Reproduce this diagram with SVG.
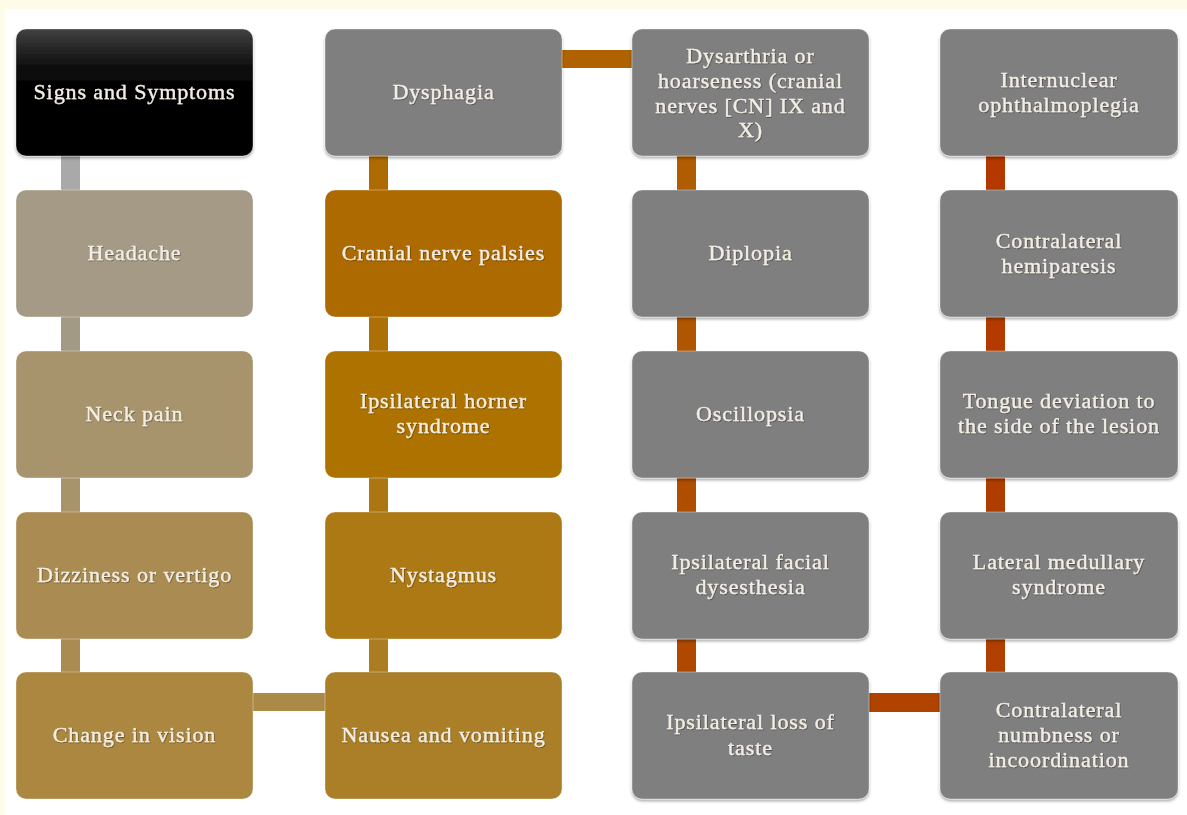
<svg xmlns="http://www.w3.org/2000/svg" width="1187" height="815" viewBox="0 0 1187 815">
<defs>
<linearGradient id="gBlack" x1="0" y1="0" x2="0" y2="1">
<stop offset="0" stop-color="#424242"/>
<stop offset="0.12" stop-color="#2c2c2c"/>
<stop offset="0.3" stop-color="#0e0e0e"/>
<stop offset="0.5" stop-color="#000"/>
<stop offset="1" stop-color="#000"/>
</linearGradient>
<filter id="sh" x="-5%" y="-5%" width="110%" height="115%">
<feDropShadow dx="0" dy="2" stdDeviation="1.5" flood-color="#000" flood-opacity="0.35"/>
</filter>
<filter id="tsh" x="-5%" y="-20%" width="110%" height="140%">
<feDropShadow dx="0.6" dy="0.8" stdDeviation="0.4" flood-color="#000" flood-opacity="0.45"/>
</filter>
<style>
.box{stroke:#ffffff;stroke-opacity:0.35;stroke-width:1}
.t{font-family:"Liberation Serif","Times New Roman",serif;font-size:22px;fill:#f3eee4;stroke:#f3eee4;stroke-width:0.35;text-anchor:middle;letter-spacing:0.9px}
.gray{fill:#7f7f7f}
</style>
</defs>
<rect x="0" y="0" width="1187" height="815" fill="#fffbe9"/>
<rect x="5" y="9" width="1182" height="806" fill="#ffffff"/>

<g id="connectors">
<rect x="61" y="156" width="19" height="34" fill="#a9a9a9"/>
<rect x="61" y="317" width="19" height="34" fill="#a39a86"/>
<rect x="61" y="478" width="19" height="34" fill="#a8946b"/>
<rect x="61" y="639" width="19" height="33" fill="#aa8c52"/>
<rect x="253" y="693" width="72" height="18" fill="#ab8a48"/>
<rect x="369" y="639" width="19" height="33" fill="#ac7c20"/>
<rect x="369" y="478" width="19" height="34" fill="#ac7612"/>
<rect x="369" y="317" width="19" height="34" fill="#ac7006"/>
<rect x="369" y="156" width="19" height="34" fill="#ad6a00"/>
<rect x="561" y="50" width="71" height="18" fill="#b06200"/>
<rect x="677" y="156" width="19" height="34" fill="#b05c00"/>
<rect x="677" y="317" width="19" height="34" fill="#b05500"/>
<rect x="677" y="478" width="19" height="34" fill="#b04e00"/>
<rect x="677" y="639" width="19" height="33" fill="#b04800"/>
<rect x="869" y="693" width="71" height="19" fill="#b04300"/>
<rect x="986" y="639" width="19" height="33" fill="#b03f00"/>
<rect x="986" y="478" width="19" height="34" fill="#b03d00"/>
<rect x="986" y="317" width="19" height="34" fill="#b43a00"/>
<rect x="986" y="156" width="19" height="34" fill="#b43800"/>
</g>

<g id="n-signs" filter="url(#sh)">
<rect class="box" x="16" y="29" width="237" height="127" rx="10" fill="url(#gBlack)"/>
<text class="t" x="134.5" y="99" filter="url(#tsh)">Signs and Symptoms</text>
</g>
<g id="n-headache">
<rect class="box" x="16" y="190" width="237" height="127" rx="10" fill="#a59a86"/>
<text class="t" x="134.5" y="260" filter="url(#tsh)">Headache</text>
</g>
<g id="n-neck">
<rect class="box" x="16" y="351" width="237" height="127" rx="10" fill="#a8946c"/>
<text class="t" x="134.5" y="421" filter="url(#tsh)">Neck pain</text>
</g>
<g id="n-dizzy">
<rect class="box" x="16" y="512" width="237" height="127" rx="10" fill="#aa8c52"/>
<text class="t" x="134.5" y="582" filter="url(#tsh)">Dizziness or vertigo</text>
</g>
<g id="n-vision">
<rect class="box" x="16" y="672" width="237" height="127" rx="10" fill="#ab8740"/>
<text class="t" x="134.5" y="742" filter="url(#tsh)">Change in vision</text>
</g>

<g id="n-dysphagia" filter="url(#sh)">
<rect class="box gray" x="325" y="29" width="237" height="127" rx="10"/>
<text class="t" x="443.5" y="99" filter="url(#tsh)">Dysphagia</text>
</g>
<g id="n-cranial">
<rect class="box" x="325" y="190" width="237" height="127" rx="10" fill="#ad6a00"/>
<text class="t" x="443.5" y="260" filter="url(#tsh)">Cranial nerve palsies</text>
</g>
<g id="n-horner">
<rect class="box" x="325" y="351" width="237" height="127" rx="10" fill="#ad7200"/>
<text class="t" x="443.5" y="408" filter="url(#tsh)">Ipsilateral horner</text>
<text class="t" x="443.5" y="433" filter="url(#tsh)">syndrome</text>
</g>
<g id="n-nystagmus">
<rect class="box" x="325" y="512" width="237" height="127" rx="10" fill="#ac7914"/>
<text class="t" x="443.5" y="582" filter="url(#tsh)">Nystagmus</text>
</g>
<g id="n-nausea">
<rect class="box" x="325" y="672" width="237" height="127" rx="10" fill="#ab7f28"/>
<text class="t" x="443.5" y="742" filter="url(#tsh)">Nausea and vomiting</text>
</g>

<g id="n-dysarthria" filter="url(#sh)">
<rect class="box gray" x="632" y="29" width="237" height="127" rx="10"/>
<text class="t" x="750.5" y="63" filter="url(#tsh)">Dysarthria or</text>
<text class="t" x="750.5" y="88" filter="url(#tsh)">hoarseness (cranial</text>
<text class="t" x="750.5" y="113" filter="url(#tsh)">nerves [CN] IX and</text>
<text class="t" x="750.5" y="137" filter="url(#tsh)">X)</text>
</g>
<g id="n-diplopia" filter="url(#sh)">
<rect class="box gray" x="632" y="190" width="237" height="127" rx="10"/>
<text class="t" x="750.5" y="260" filter="url(#tsh)">Diplopia</text>
</g>
<g id="n-oscillopsia" filter="url(#sh)">
<rect class="box gray" x="632" y="351" width="237" height="127" rx="10"/>
<text class="t" x="750.5" y="421" filter="url(#tsh)">Oscillopsia</text>
</g>
<g id="n-facial" filter="url(#sh)">
<rect class="box gray" x="632" y="512" width="237" height="127" rx="10"/>
<text class="t" x="750.5" y="569" filter="url(#tsh)">Ipsilateral facial</text>
<text class="t" x="750.5" y="594" filter="url(#tsh)">dysesthesia</text>
</g>
<g id="n-taste" filter="url(#sh)">
<rect class="box gray" x="632" y="672" width="237" height="127" rx="10"/>
<text class="t" x="750.5" y="729" filter="url(#tsh)">Ipsilateral loss of</text>
<text class="t" x="750.5" y="755" filter="url(#tsh)">taste</text>
</g>

<g id="n-ino" filter="url(#sh)">
<rect class="box gray" x="940" y="29" width="238" height="127" rx="10"/>
<text class="t" x="1059" y="87" filter="url(#tsh)">Internuclear</text>
<text class="t" x="1059" y="112" filter="url(#tsh)">ophthalmoplegia</text>
</g>
<g id="n-hemiparesis" filter="url(#sh)">
<rect class="box gray" x="940" y="190" width="238" height="127" rx="10"/>
<text class="t" x="1059" y="248" filter="url(#tsh)">Contralateral</text>
<text class="t" x="1059" y="273" filter="url(#tsh)">hemiparesis</text>
</g>
<g id="n-tongue" filter="url(#sh)">
<rect class="box gray" x="940" y="351" width="238" height="127" rx="10"/>
<text class="t" x="1059" y="408" filter="url(#tsh)">Tongue deviation to</text>
<text class="t" x="1059" y="433" filter="url(#tsh)">the side of the lesion</text>
</g>
<g id="n-lateral" filter="url(#sh)">
<rect class="box gray" x="940" y="512" width="238" height="127" rx="10"/>
<text class="t" x="1059" y="569" filter="url(#tsh)">Lateral medullary</text>
<text class="t" x="1059" y="594" filter="url(#tsh)">syndrome</text>
</g>
<g id="n-numbness" filter="url(#sh)">
<rect class="box gray" x="940" y="672" width="238" height="127" rx="10"/>
<text class="t" x="1059" y="717" filter="url(#tsh)">Contralateral</text>
<text class="t" x="1059" y="742" filter="url(#tsh)">numbness or</text>
<text class="t" x="1059" y="767" filter="url(#tsh)">incoordination</text>
</g>
</svg>
